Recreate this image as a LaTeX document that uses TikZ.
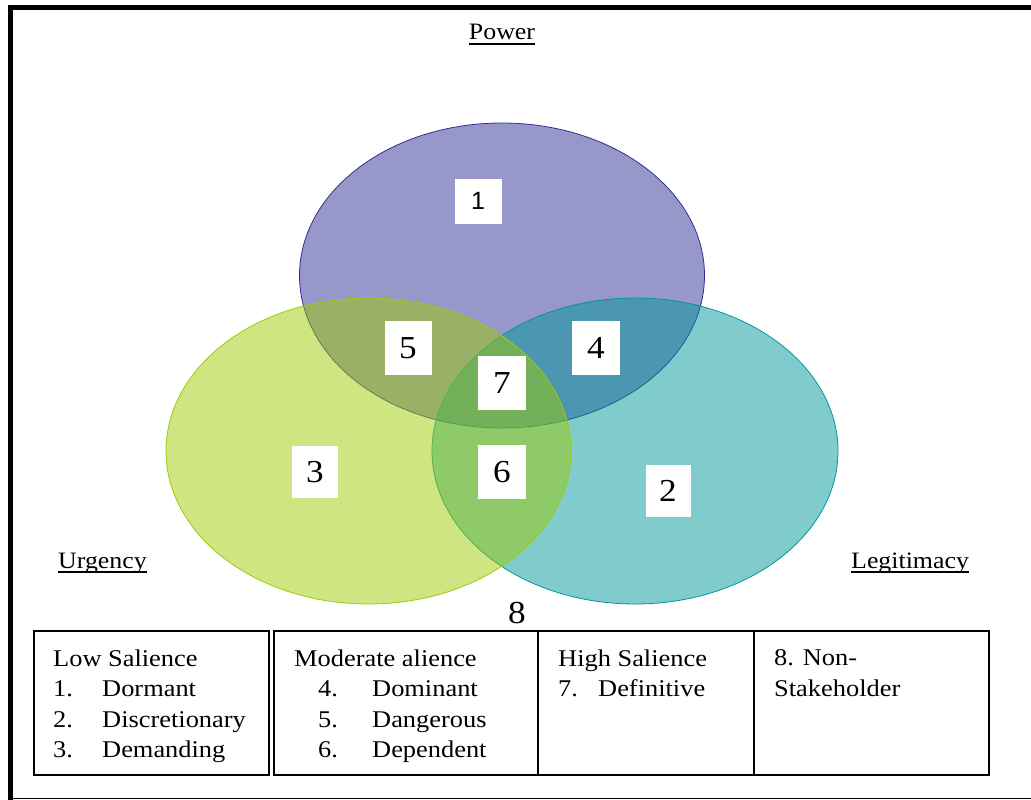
\documentclass[tikz,border=0pt]{standalone}
\usepackage{fontspec}
\setmainfont{Liberation Serif}[FakeStretch=1.1]
\newfontfamily\digitfont{Liberation Sans}
\usetikzlibrary{positioning}

\definecolor{powerblue}{RGB}{47,47,149}
\definecolor{legitteal}{RGB}{1,151,153}
\definecolor{urgentgreen}{RGB}{157,203,5}

\begin{document}
\begin{tikzpicture}[x=1pt, y=-1pt,
    numbox/.style={fill=white, inner sep=0pt, minimum width=47pt, minimum height=54pt, font=\fontsize{32}{32}\selectfont},
    setlbl/.style={inner sep=0pt, font=\fontsize{23.5}{26}\selectfont},
    legend/.style={anchor=north west, inner sep=0pt, align=left, font=\fontsize{24}{30.5}\selectfont},
    legbox/.style={draw, line width=1.3pt},
    venn/.style={fill opacity=0.5, line width=0.8pt}]

    \useasboundingbox (0,0) rectangle (1031,800);

    % Frame
    \draw[line width=5pt] (8,7.5) -- (1031,7.5);
    \draw[line width=5pt] (10.5,5) -- (10.5,800);
    \draw[line width=1.5pt] (8,798.5) -- (1031,798.5);

    % Sets
    \draw[venn, draw=powerblue, fill=powerblue] (502,275.5) ellipse [x radius=202.5pt, y radius=152.5pt];
    \draw[venn, draw=legitteal, fill=legitteal] (635,451) ellipse [x radius=203pt, y radius=153pt];
    \draw[venn, draw=urgentgreen, fill=urgentgreen] (368.5,451) ellipse [x radius=202.5pt, y radius=153pt];

    % Set names
    \node[setlbl, anchor=base] (power) at (502,40) {Power};
    \node[setlbl, anchor=base west] (urgency) at (58,568) {Urgency};
    \node[setlbl, anchor=base west] (legitimacy) at (851,568) {Legitimacy};
    \draw[line width=1.5pt] ([yshift=-4pt]power.base west) -- ([yshift=-4pt]power.base east);
    \draw[line width=1.5pt] ([yshift=-4pt]urgency.base west) -- ([yshift=-4pt]urgency.base east);
    \draw[line width=1.5pt] ([yshift=-4pt]legitimacy.base west) -- ([yshift=-4pt]legitimacy.base east);

    % Classes
    \node[numbox, minimum height=45pt, font=\digitfont\fontsize{25}{25}\selectfont] (dormant) at (478,201) {1};
    \node[numbox, minimum width=45pt, minimum height=52pt] (discretionary) at (668,491) {2};
    \node[numbox, minimum width=46pt, minimum height=52pt] (demanding) at (315,472) {3};
    \node[numbox, minimum width=48pt] (dominant) at (596,348) {4};
    \node[numbox] (dangerous) at (408,348) {5};
    \node[numbox, minimum width=48pt] (dependent) at (502,472) {6};
    \node[numbox, minimum width=48pt] (definitive) at (502,383) {7};
    \node[setlbl, anchor=base, font=\fontsize{32}{32}\selectfont] (nonstake) at (517,623) {8};

    % Legend
    \draw[legbox] (34,631) rectangle (269,775);
    \draw[legbox] (274,631) rectangle (538,775);
    \draw[legbox] (538,631) rectangle (754,775);
    \draw[legbox] (754,631) rectangle (989,775);

    \node[legend] (lowtxt) at (53,649.5) {Low Salience\\
        \makebox[49pt][l]{1.}Dormant\\
        \makebox[49pt][l]{2.}Discretionary\\
        \makebox[49pt][l]{3.}Demanding};
    \node[legend] (modtxt) at (294,649.5) {Moderate alience\\
        \hspace*{24pt}\makebox[54pt][l]{4.}Dominant\\
        \hspace*{24pt}\makebox[54pt][l]{5.}Dangerous\\
        \hspace*{24pt}\makebox[54pt][l]{6.}Dependent};
    \node[legend] (hightxt) at (558,649.5) {High Salience\\
        \makebox[40pt][l]{7.}Definitive};
    \node[legend] (nontxt) at (774,649.5) {8. Non-\\Stakeholder};

\end{tikzpicture}
\end{document}
